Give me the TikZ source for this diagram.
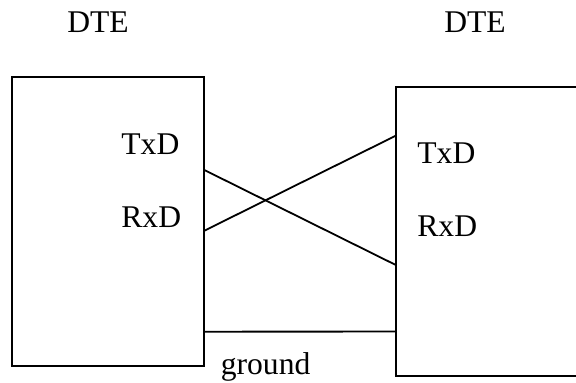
\documentclass[tikz,border=0pt]{standalone}
\usepackage{fontspec}
\setmainfont{Liberation Serif}
\usetikzlibrary{calc}
\begin{document}
\begin{tikzpicture}[x=0.5pt,y=-0.5pt,
  box/.style={draw,rectangle,line width=1pt,inner sep=0pt,outer sep=0pt},
  wire/.style={line width=0.9pt},
  lbl/.style={inner sep=0pt,anchor=base,font=\fontsize{15.8}{18}\selectfont}]
\clip (0,0) rectangle (576,383);
\useasboundingbox (0,0) rectangle (576,383);
% the two terminals
\node[box,minimum width=96.25pt,minimum height=144.2pt] (L) at (108.05,221.5) {};
\node[box,minimum width=112.15pt,minimum height=144.2pt] (R) at (507.85,231.5) {};
% titles and pin labels
\node[lbl] (dteL) at (98,33) {DTE};
\node[lbl] (dteR) at (475,33) {DTE};
\node[lbl,anchor=base west] (txdL) at (121,155) {TxD};
\node[lbl,anchor=base west] (rxdL) at (121,228) {RxD};
\node[lbl,anchor=base west] (txdR) at (417,164) {TxD};
\node[lbl,anchor=base west] (rxdR) at (417,237) {RxD};
\node[lbl] (gnd) at (265.6,374) {ground};
% crossed data lines and common ground
\draw[wire] ($(L.north east)!0.3214!(L.south east)$) -- ($(R.north west)!0.616!(R.south west)$);
\draw[wire] ($(L.north east)!0.532!(L.south east)$) -- ($(R.north west)!0.168!(R.south west)$);
\draw[wire] ($(L.north east)!0.882!(L.south east)$) -- ($(R.north west)!0.847!(R.south west)$);
\end{tikzpicture}
\end{document}
